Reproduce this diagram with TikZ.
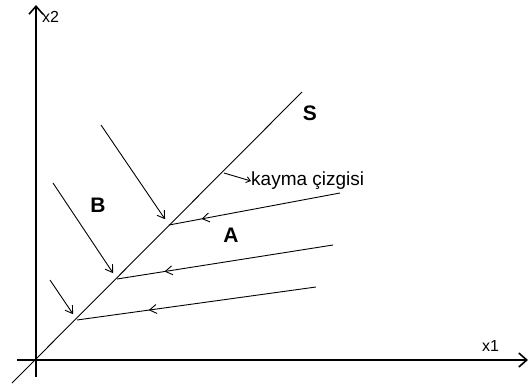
\documentclass[tikz,border=0pt]{standalone}
\usepackage{fontspec}
\setmainfont{Liberation Sans}
\usetikzlibrary{arrows.meta,decorations.markings}
\definecolor{sketchink}{HTML}{000000}

\begin{document}
\begin{tikzpicture}[
  x=1pt,
  y=-1pt,
  every node/.style={font=\fontsize{16}{18}\selectfont, inner sep=0pt},
  >={Straight Barb[length=7pt,width=9pt]},
  axis/.style={sketchink, line width=1.6pt},
  thin/.style={sketchink, line width=0.9pt},
  bigtag/.style={font=\fontsize{21}{24}\selectfont\bfseries},
  midarrow/.style={postaction={decorate}, decoration={markings,
    mark=at position #1 with {\arrow{Straight Barb[length=7pt,width=9pt]}}}}
]
  \useasboundingbox (0,0) rectangle (530,389);

  % ---- axes -------------------------------------------------------------
  \coordinate (xtwotop) at (36,5);
  \coordinate (xtwobot) at (36,377);
  \coordinate (xoneleft) at (17,360);
  \coordinate (xoneright) at (528,360);

  \draw[axis, -{Straight Barb[length=8pt,width=14pt]}] (xtwobot) -- (xtwotop);
  \draw[axis, -{Straight Barb[length=8pt,width=14pt]}] (xoneleft) -- (xoneright);

  \node[anchor=west] (xtwo) at (42,17) {x2};
  \node[anchor=west] (xone) at (482,346) {x1};

  % ---- sliding line S ---------------------------------------------------
  \coordinate (slow) at (12,383);
  \coordinate (shigh) at (302,92);
  \draw[thin] (slow) -- (shigh);

  \coordinate (pone) at (77,320);
  \coordinate (ptwo) at (117,279);
  \coordinate (pthree) at (169,225);

  \node[bigtag] (stag) at (310,113) {S};
  \node[bigtag] (btag) at (98,205) {B};
  \node[bigtag] (atag) at (231,235) {A};

  % ---- trajectories from region A ---------------------------------------
  \coordinate (aone) at (316,287);
  \coordinate (atwo) at (333,245);
  \coordinate (athree) at (340,193);

  \draw[thin, midarrow=0.70] (aone) -- (pone);
  \draw[thin, midarrow=0.78] (atwo) -- (ptwo);
  \draw[thin, midarrow=0.81] (athree) -- (pthree);

  % ---- trajectories from region B ---------------------------------------
  \coordinate (bone) at (50,280);
  \coordinate (btwo) at (53,183);
  \coordinate (bthree) at (101,125);

  \draw[thin, ->, shorten >=7pt] (bone) -- (pone);
  \draw[thin, ->, shorten >=7pt] (btwo) -- (ptwo);
  \draw[thin, ->, shorten >=7pt] (bthree) -- (pthree);

  % ---- label of the sliding line ----------------------------------------
  \coordinate (kfoot) at (224,173);
  \node[anchor=west, font=\fontsize{19}{22}\selectfont] (kayma) at (251,181)
    {kayma çizgisi};
  \draw[thin, -{Straight Barb[length=4pt,width=6pt]}] (kfoot) -- (kayma.west);
\end{tikzpicture}
\end{document}
